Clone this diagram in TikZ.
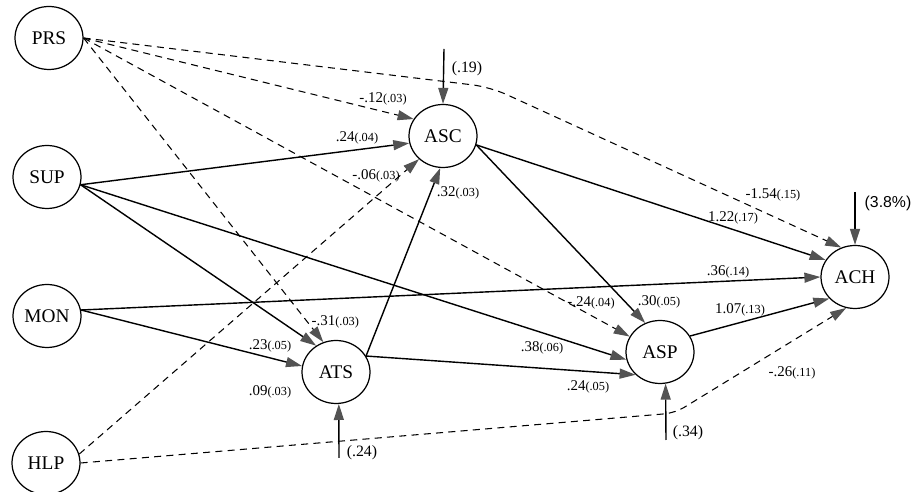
\documentclass[tikz,border=0pt]{standalone}
\usepackage{fontspec}
\setmainfont{Liberation Serif}
\newfontfamily\labelsans{Liberation Sans}
\usetikzlibrary{arrows.meta,shapes.geometric}

% path coefficient with its standard error
\newcommand{\pcoef}[2]{#1{\fontsize{7}{8}\selectfont(#2)}}

\tikzset{
  var/.style={draw, ellipse, line width=0.7pt, minimum width=1.36cm, minimum height=1.26cm, inner sep=0pt, font=\fontsize{11}{13}\selectfont},
  effect/.style={line width=0.8pt, -{Triangle[length=3.2mm, width=2mm, color=gray!65!black]}},
  negeffect/.style={effect, line width=0.6pt, dash pattern=on 4pt off 3pt},
  coef/.style={font=\fontsize{8.5}{10}\selectfont, inner sep=1pt},
  resid/.style={font=\fontsize{9}{11}\selectfont, inner sep=1pt},
}

\begin{document}
\begin{tikzpicture}[x=0.02cm, y=-0.02cm]
    \useasboundingbox (0,0) rectangle (923,492);

    % Nodes (exogenous, left column)
    \node[var] (PRS) at (49,38) {PRS};
    \node[var] (SUP) at (47,177) {SUP};
    \node[var] (MON) at (47,316) {MON};
    \node[var] (HLP) at (46,463) {HLP};

    % Nodes (endogenous)
    \node[var] (ASC) at (443,136) {ASC};
    \node[var] (ATS) at (336,372) {ATS};
    \node[var] (ASP) at (660,352) {ASP};
    \node[var] (ACH) at (855,277) {ACH};

    % Residual entry points and bends
    \coordinate (ascE) at (444,49);
    \coordinate (achE) at (855,192);
    \coordinate (atsE) at (339,458);
    \coordinate (aspE) at (666,440);
    \coordinate (prsBend) at (490,87);
    \coordinate (hlpBend) at (675,413);

    % Arrows (positive paths)
    \draw[effect] (SUP.-13) -- (ASC.192);
    \draw[effect] (SUP.-13) -- (ATS.127);
    \draw[effect] (SUP.-13) -- (ASP.193);
    \draw[effect] (MON.10) -- (ATS.170);
    \draw[effect] (MON.10) -- (ACH.180);
    \draw[effect] (ATS.28) -- (ASC.265);
    \draw[effect] (ATS.28) -- (ASP.223);
    \draw[effect] (ASC.-15) -- (ACH.150);
    \draw[effect] (ASC.-15) -- (ASP.117);
    \draw[effect] (ASP.28) -- (ACH.220);

    % Arrows (negative paths)
    \draw[negeffect] (PRS.east) -- (ASC.150);
    \draw[negeffect] (PRS.east) -- (ATS.113);
    \draw[negeffect] (PRS.east) -- (ASP.153);
    \draw[negeffect, rounded corners=10pt] (PRS.east) -- (prsBend) -- (ACH.115);
    \draw[negeffect] (HLP.15) -- (ASC.224);
    \draw[negeffect, rounded corners=6pt] (HLP.east) -- (hlpBend) -- (ACH.254);

    % Residuals
    \draw[effect] (ascE) -- (ASC.north);
    \draw[effect] (achE) -- (ACH.north);
    \draw[effect] (atsE) -- (ATS.275);
    \draw[effect] (aspE) -- (ASP.280);

    % Coefficients
    \node[coef] (cPrsAsc) at (383,99) {\pcoef{-.12}{.03}};
    \node[coef] (cSupAsc) at (357,138) {\pcoef{.24}{.04}};
    \node[coef] (cHlpAsc) at (376,176) {\pcoef{-.06}{.03}};
    \node[coef] (cAtsAsc) at (458,193) {\pcoef{.32}{.03}};
    \node[coef, anchor=east] (cPrsAts) at (361,322) {\pcoef{-.31}{.03}};
    \node[coef] (cSupAts) at (270,346) {\pcoef{.23}{.05}};
    \node[coef] (cMonAts) at (270,392) {\pcoef{.09}{.03}};
    \node[coef] (cSupAsp) at (542,348) {\pcoef{.38}{.06}};
    \node[coef] (cAtsAsp) at (588,387) {\pcoef{.24}{.05}};
    \node[coef] (cPrsAsp) at (591,303) {\pcoef{-.24}{.04}};
    \node[coef] (cAscAsp) at (659,302) {\pcoef{.30}{.05}};
    \node[coef] (cMonAch) at (728,272) {\pcoef{.36}{.14}};
    \node[coef] (cAspAch) at (740,310) {\pcoef{1.07}{.13}};
    \node[coef] (cHlpAch) at (792,373) {\pcoef{-.26}{.11}};
    \node[coef] (cAscAch) at (733,218) {\pcoef{1.22}{.17}};
    \node[coef] (cPrsAch) at (773,195) {\pcoef{-1.54}{.15}};

    % Residual labels
    \node[resid] (rAsc) at (467,69) {(.19)};
    \node[resid] (rAts) at (362,453) {(.24)};
    \node[resid] (rAsp) at (688,433) {(.34)};
    \node[resid, font=\labelsans\fontsize{9}{11}\selectfont] (rAch) at (888,203) {(3.8\%)};
\end{tikzpicture}
\end{document}
